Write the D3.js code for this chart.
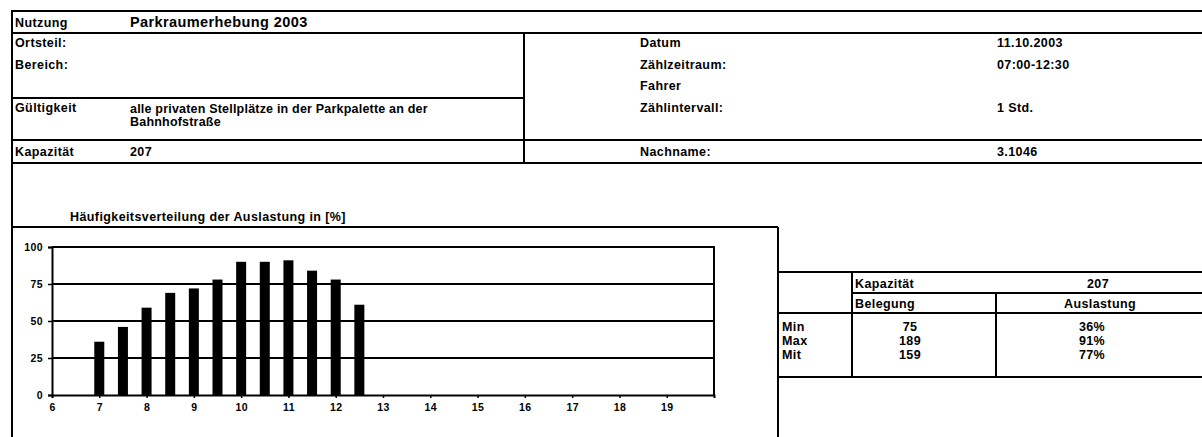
<!DOCTYPE html>
<meta charset="utf-8">
<style>
    body { margin: 0; background: #fff; }
    text { font-family: "Liberation Sans", Arial, sans-serif; font-size: 12.5px; font-weight: bold; letter-spacing: 0.4px; fill: #000; }
    .rule { stroke: #000; stroke-width: 2px; }
    .grid { stroke: #000; stroke-width: 2px; }
    .bar { fill: #000; }
</style>
<title>Parkraumerhebung 2003</title>
<body>
<script src="https://d3js.org/d3.v7.min.js"></script>
<script>
    // Uhrzeit (halbstündlich) und Auslastung in %
    const times = [7, 7.5, 8, 8.5, 9, 9.5, 10, 10.5, 11, 11.5, 12, 12.5];
    const values = [36, 46, 59, 69, 72, 78, 90, 90, 91, 84, 78, 61];
    const xTicks = [6, 7, 8, 9, 10, 11, 12, 13, 14, 15, 16, 17, 18, 19];
    const yTicks = [0, 25, 50, 75, 100];

    const kopfLinks = [["Nutzung", "Parkraumerhebung 2003"], ["Ortsteil:", ""], ["Bereich:", ""]];
    const kopfRechts = [["Datum", "11.10.2003"], ["Zählzeitraum:", "07:00-12:30"], ["Fahrer", ""], ["Zählintervall:", "1 Std."]];
    const statRows = ["Min", "Max", "Mit"];
    const statBelegung = [75, 189, 159];
    const statAuslastung = ["36%", "91%", "77%"];
    const kapazitaet = 207;

    const width = 1202, height = 437;

    let svg = d3.select('body').append('svg')
        .attr('width', width)
        .attr('height', height);

    function line(x1, y1, x2, y2) {
        svg.append('line').attr('class', 'rule')
            .attr('x1', x1).attr('y1', y1).attr('x2', x2).attr('y2', y2);
    }
    function text(x, y, s, anchor) {
        return svg.append('text').attr('x', x).attr('y', y)
            .attr('text-anchor', anchor || 'start')
            .text(s);
    }

    // Kopf-Rahmen
    line(12, 11, width, 11);
    line(12, 33, width, 33);
    line(12, 98, 524, 98);
    line(12, 140, width, 140);
    line(12, 163, width, 163);
    line(12, 10, 12, height);
    line(524, 33, 524, 163);

    text(15, 27, kopfLinks[0][0]);
    text(130, 27, kopfLinks[0][1]).style('font-size', '14.5px');
    text(15, 47, kopfLinks[1][0]);
    text(15, 69, kopfLinks[2][0]);
    text(15, 112, "Gültigkeit");
    text(130, 113, "alle privaten Stellplätze in der Parkpalette an der").style('letter-spacing', '0.2px');
    text(130, 126, "Bahnhofstraße").style('letter-spacing', '0.2px');
    text(15, 156, "Kapazität");
    text(130, 156, kapazitaet);

    kopfRechts.forEach((d, i) => {
        text(640, 47 + i * 21.5, d[0]);
        text(997, 47 + i * 21.5, d[1]);
    });
    text(640, 156, "Nachname:");
    text(997, 156, "3.1046");

    // Diagramm
    text(70, 221, "Häufigkeitsverteilung der Auslastung in [%]");
    line(12, 227, 778, 227);
    line(778, 227, 778, height);

    const x = d3.scaleLinear().domain([6, 20]).range([52, 714]);
    const y = d3.scaleLinear().domain([0, 100]).range([395, 247]);

    let g = svg.append('g');

    g.selectAll('.grid')
        .data(yTicks.slice(1))
        .enter().append('line')
        .attr('class', 'grid')
        .attr('x1', x(6)).attr('x2', x(20))
        .attr('y1', d => y(d)).attr('y2', d => y(d));

    g.append('line').attr('class', 'grid')
        .attr('x1', x(20)).attr('x2', x(20))
        .attr('y1', y(100) - 1).attr('y2', y(0));

    g.selectAll('.bar')
        .data(values)
        .enter().append('rect')
        .attr('class', 'bar')
        .attr('x', (d, i) => x(times[i]) - 5)
        .attr('width', 10)
        .attr('y', d => y(d))
        .attr('height', d => y(0) - y(d));

    let yAxis = g.append('g')
        .attr('transform', `translate(${x(6)},0)`)
        .call(d3.axisLeft(y).tickValues(yTicks).tickSize(4).tickPadding(5));
    let xAxis = g.append('g')
        .attr('transform', `translate(0,${y(0)})`)
        .call(d3.axisBottom(x).tickValues(xTicks).tickSize(3).tickPadding(6));
    [yAxis, xAxis].forEach(a => {
        a.select('.domain').attr('stroke', '#000').attr('stroke-width', 2);
        a.selectAll('.tick line').attr('stroke', '#000').attr('stroke-width', 1.5);
        a.selectAll('text')
            .style('font-family', '"Liberation Sans", Arial, sans-serif')
            .style('font-size', '10.5px')
            .style('font-weight', 'bold')
            .attr('fill', '#000');
    });

    // Auswertungstabelle
    line(778, 272, width, 272);
    line(852, 293, width, 293);
    line(778, 313, width, 313);
    line(778, 377, width, 377);
    line(852, 272, 852, 377);
    line(996, 293, 996, 377);

    text(855, 288, "Kapazität");
    text(1098, 288, kapazitaet, 'middle');
    text(855, 308, "Belegung");
    text(1100, 308, "Auslastung", 'middle');
    statRows.forEach((r, i) => {
        text(782, 331 + i * 14, r);
        text(910, 331 + i * 14, statBelegung[i], 'middle');
        text(1092, 331 + i * 14, statAuslastung[i], 'middle');
    });
</script>
</body>
